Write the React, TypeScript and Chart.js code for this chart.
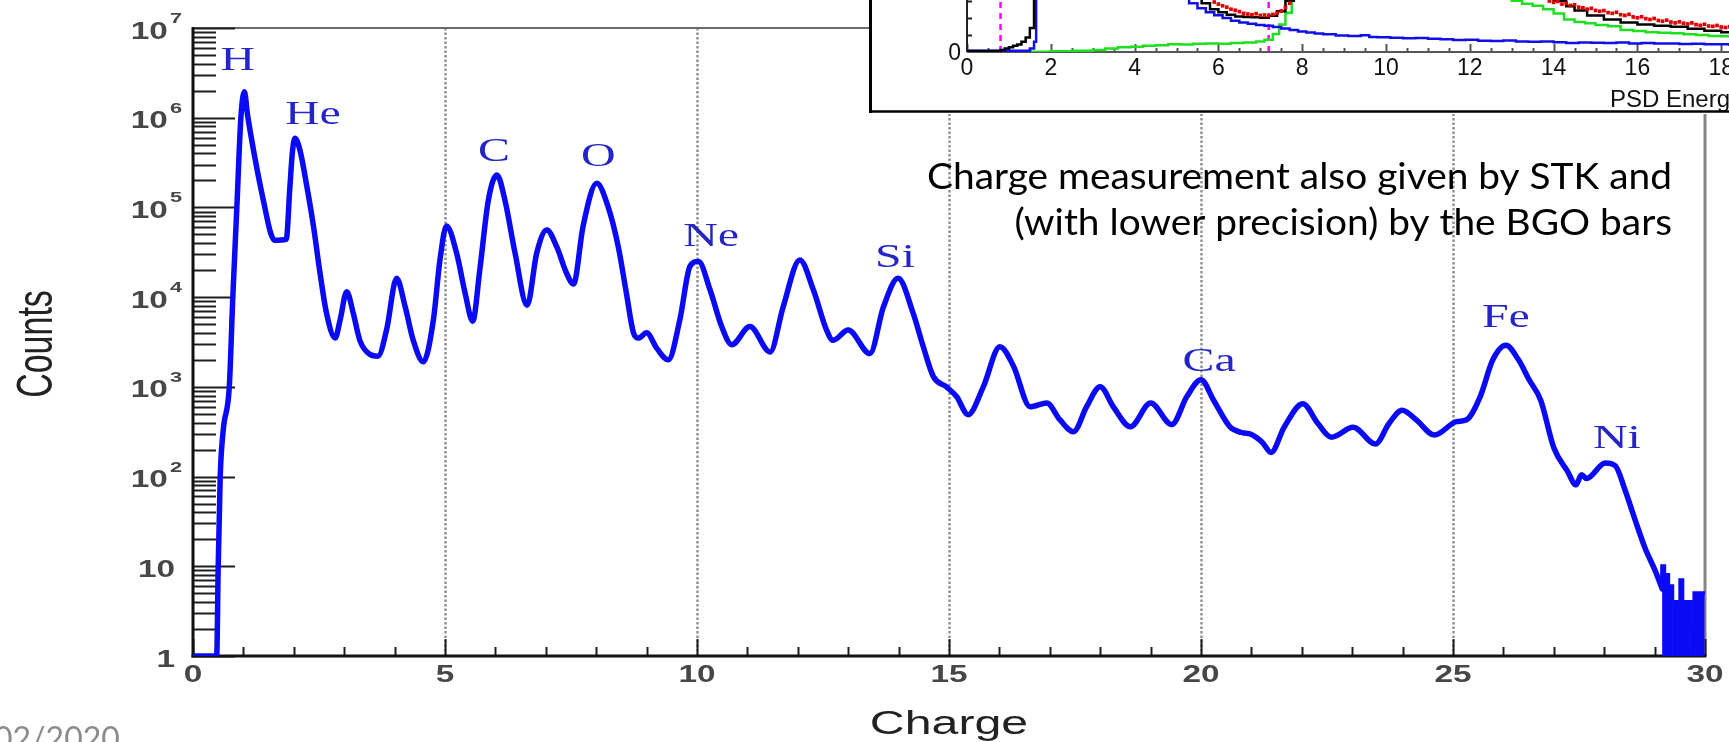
import React, { useEffect, useRef } from 'react';
import { Chart, registerables } from 'chart.js';

Chart.register(...registerables);

// ---------------- main spectrum data ----------------
const charges = [
  0, 0.47, 0.50, 0.54, 0.60, 0.72, 0.79, 0.87, 0.95, 1.02,
  1.08, 1.15, 1.28, 1.41, 1.54, 1.62, 1.85, 1.92, 1.97, 2.02,
  2.12, 2.26, 2.39, 2.52, 2.65, 2.82, 2.92, 3.05, 3.18, 3.31,
  3.51, 3.67, 3.84, 4.04, 4.21, 4.37, 4.57, 4.77, 4.90, 5.03,
  5.23, 5.40, 5.55, 5.69, 5.86, 6.03, 6.19, 6.39, 6.63, 6.82,
  7.02, 7.22, 7.41, 7.55, 7.74, 8.01, 8.24, 8.44, 8.60, 8.74,
  8.84, 9.00, 9.20, 9.43, 9.66, 9.86, 10.03, 10.26, 10.49, 10.69,
  11.05, 11.45, 11.71, 12.04, 12.31, 12.57, 12.70, 13.00, 13.43, 13.70,
  13.99, 14.29, 14.49, 14.69, 14.95, 15.15, 15.38, 15.68, 16.01, 16.28,
  16.61, 16.94, 17.20, 17.47, 17.73, 18.00, 18.26, 18.60, 19.00, 19.42,
  19.72, 20.00, 20.25, 20.58, 20.80, 21.00, 21.22, 21.39, 21.65, 22.02,
  22.32, 22.59, 23.02, 23.46, 23.73, 23.99, 24.27, 24.63, 25.07, 25.27,
  25.54, 25.79, 26.05, 26.30, 26.51, 26.74, 27.00, 27.27, 27.44, 27.55,
  27.65, 28.02, 28.22, 28.42, 28.62, 28.81, 29.02, 29.15,
];
const counts = [
  1, 1, 10, 100, 330, 1000, 10000, 100000, 1000000, 1950000,
  1100000, 630000, 250000, 110000, 52000, 43000, 44000, 160000, 400000, 590000,
  440000, 170000, 62000, 18600, 6600, 3500, 5600, 11500, 6600, 3300,
  2300, 2200, 4300, 16200, 7800, 3300, 1900, 5600, 26000, 62000,
  31000, 11000, 5400, 20000, 120000, 230000, 120000, 31000, 8100, 31000,
  56000, 36000, 18600, 14000, 62000, 186000, 100000, 36000, 11000, 4000,
  3500, 4000, 2700, 2000, 5600, 22000, 25000, 12000, 4700, 2950,
  4700, 2450, 7800, 26000, 12000, 4300, 3300, 4300, 2350, 7800,
  16200, 6600, 2800, 1300, 1000, 780, 490, 1000, 2800, 1700,
  600, 660, 430, 316, 600, 1000, 600, 360, 660, 380,
  780, 1200, 710, 355, 310, 295, 240, 186, 355, 650,
  390, 275, 355, 230, 390, 550, 430, 290, 410, 430,
  780, 2000, 2900, 2000, 1200, 710, 210, 115, 81, 105,
  95, 142, 132, 69, 32, 16, 8.7, 5.6,
];
// noisy high-charge tail (histogram bins)
const tailCharges = [
  29.15, 29.19, 29.23, 29.27, 29.31, 29.35, 29.39, 29.43, 29.47, 29.51, 29.55,
  29.59, 29.63, 29.67, 29.71, 29.75, 29.79, 29.83, 29.87, 29.91, 29.95, 30.0,
];
const tailCounts = [5.6, 10, 1, 8, 1, 6, 4, 1, 4, 1, 7, 1, 4, 1, 4, 2, 1, 5, 1, 5, 1, 5];

const xTickValues = [0, 5, 10, 15, 20, 25, 30];
const xTickLabels = ['0', '5', '10', '15', '20', '25', '30'];
const xGridValues = [5, 10, 15, 20, 25];
const yTickValues = [1, 10, 100, 1000, 10000, 100000, 1000000, 10000000];
const yTickBases = ['1', '10', '10', '10', '10', '10', '10', '10'];
const yTickExponents = ['', '', '2', '3', '4', '5', '6', '7'];

const elementNames = ['H', 'He', 'C', 'O', 'Ne', 'Si', 'Ca', 'Fe', 'Ni'];
const elementLabelCharge = [0.89, 2.38, 5.97, 8.04, 10.28, 13.93, 20.16, 26.05, 28.25];
const elementLabelCount = [4.5e6, 1.12e6, 4.4e5, 3.85e5, 4.9e4, 2.9e4, 2.0e3, 6.2e3, 275];

const xTitle = 'Charge';
const yTitle = 'Counts';
const noteLines = ['Charge measurement also given by STK and', '(with lower precision) by the BGO bars'];
const dateText = '02/2020';

// ---------------- inset (PSD energy) data ----------------
const insetTickValues = [0, 2, 4, 6, 8, 10, 12, 14, 16, 18];
const insetTickLabels = ['0', '2', '4', '6', '8', '10', '12', '14', '16', '18'];
const insetCutValues = [0.8, 7.2];
const insetTitle = 'PSD Energy';

const blackX = [0, 0.8, 0.9, 1.0, 1.1, 1.2, 1.3, 1.4, 1.5, 1.6, 1.7, 3.0, 5.0, 5.6, 5.8, 6.0, 6.2, 6.4, 6.6, 6.8, 7.0, 7.2, 7.4, 7.6, 7.8, 8.0, 10.0, 12.0, 14.0, 14.3, 14.5, 14.8, 15.2, 15.6, 16.0, 16.4, 16.8, 17.2, 17.6, 18.0, 18.4, 18.8, 19.2];
const blackY = [0, 6, 12, 20, 28, 36, 44, 60, 85, 140, 2600, 3000, 1600, 340, 285, 250, 232, 218, 208, 205, 203, 200, 212, 238, 300, 700, 1500, 1200, 600, 300, 268, 242, 214, 190, 172, 160, 153, 147, 136, 124, 116, 111, 105];

const blueX = [0, 1.5, 1.6, 1.65, 1.7, 3.0, 5.0, 5.3, 5.5, 5.7, 5.9, 6.1, 6.3, 6.5, 6.7, 6.9, 7.1, 7.3, 7.5, 7.7, 7.9, 8.1, 8.3, 8.5, 8.8, 9.1, 9.4, 9.6, 9.8, 10.1, 10.4, 10.7, 11.0, 11.3, 11.6, 11.9, 12.2, 12.5, 12.8, 13.1, 13.4, 13.7, 14.0, 14.3, 14.6, 14.9, 15.2, 15.5, 15.8, 16.1, 16.4, 16.7, 17.0, 17.3, 17.6, 17.9, 18.2, 18.5, 18.8];
const blueY = [0, 8, 20, 60, 2800, 3200, 1200, 320, 285, 255, 232, 215, 198, 182, 172, 165, 158, 154, 146, 138, 128, 120, 114, 108, 104, 97, 93, 98, 88, 86, 84, 80, 82, 78, 74, 70, 72, 66, 64, 67, 62, 60, 61, 57, 52, 56, 54, 53, 55, 50, 52, 49, 50, 47, 48, 45, 46, 42, 40];

const greenX = [0, 1.0, 2.0, 2.5, 3.0, 3.3, 3.6, 3.9, 4.2, 4.5, 4.8, 5.1, 5.4, 5.7, 6.0, 6.3, 6.6, 6.9, 7.1, 7.3, 7.45, 7.6, 7.75, 7.9, 9.0, 11.0, 13.0, 13.25, 13.5, 13.75, 14.0, 14.25, 14.5, 14.75, 15.0, 15.3, 15.6, 15.9, 16.2, 16.5, 16.8, 17.1, 17.4, 17.7, 18.0, 18.3, 18.6];
const greenY = [0, 1, 2, 4, 8, 12, 20, 28, 30, 36, 40, 45, 44, 48, 50, 48, 52, 55, 62, 72, 105, 160, 230, 400, 1400, 2000, 900, 300, 282, 270, 250, 225, 190, 175, 168, 158, 150, 128, 122, 116, 112, 110, 104, 100, 94, 92, 88];

const redX = [5.9, 6.0, 6.1, 6.2, 6.3, 6.4, 6.5, 6.6, 6.7, 6.8, 6.9, 7.0, 7.1, 7.2, 7.3, 7.4, 7.5, 7.6, 7.7,
  13.9, 14.0, 14.1, 14.2, 14.3, 14.4, 14.5, 14.6, 14.7, 14.8, 14.9, 15.0, 15.1, 15.2, 15.3, 15.4, 15.5, 15.6, 15.7, 15.8,
  15.9, 16.0, 16.1, 16.2, 16.3, 16.4, 16.5, 16.6, 16.7, 16.8, 16.9, 17.0, 17.1, 17.2, 17.3, 17.4, 17.5, 17.6, 17.7, 17.8,
  17.9, 18.0, 18.1, 18.2, 18.3, 18.4, 18.5];
const redY = [292, 280, 270, 262, 250, 244, 236, 226, 222, 218, 224, 214, 216, 212, 220, 228, 240, 262, 285,
  298, 290, 296, 280, 284, 272, 276, 262, 258, 250, 255, 243, 238, 242, 230, 226, 232, 218, 214, 220,
  205, 200, 206, 195, 190, 196, 184, 180, 186, 175, 170, 176, 168, 164, 170, 160, 156, 162, 152, 150,
  155, 146, 143, 148, 140, 138, 142];

// ---------------- styles ----------------
const CURVE = '#0a0af5';
const LABEL_BLUE = '#2424c8';
const TICK_COLOR = '#474747';
const SX = 1.45;
const TICK_FONT = 'bold 23px "Liberation Sans", Arial, sans-serif';
const EXP_FONT = 'bold 15px "Liberation Sans", Arial, sans-serif';
const TITLE_FONT = '34px "Liberation Sans", Arial, sans-serif';
const XTITLE_FONT = '34px "Liberation Sans", Arial, sans-serif';
const ELEM_FONT = '33px "Liberation Serif", "Times New Roman", serif';
const NOTE_FONT = '37px Lato, "Open Sans", sans-serif';
const DATE_FONT = '32px Lato, "Open Sans", sans-serif';
const INSET_FONT = '23px "Liberation Sans", Arial, sans-serif';
const INSET_TITLE_FONT = '24px "Liberation Sans", Arial, sans-serif';

function txt(ctx: CanvasRenderingContext2D, s: string, x: number, y: number, font: string, color: string, align: CanvasTextAlign, sx = 1) {
  ctx.save();
  ctx.font = font;
  ctx.fillStyle = color;
  ctx.textAlign = align;
  ctx.textBaseline = 'alphabetic';
  ctx.translate(x, y);
  ctx.scale(sx, 1);
  ctx.fillText(s, 0, 0);
  ctx.restore();
}

function seg(ctx: CanvasRenderingContext2D, x1: number, y1: number, x2: number, y2: number) {
  ctx.beginPath();
  ctx.moveTo(x1, y1);
  ctx.lineTo(x2, y2);
  ctx.stroke();
}

const mainDecor = {
  id: 'mainDecor',
  beforeDatasetsDraw(chart: any) {
    const { ctx, chartArea: a, scales } = chart;
    const x = scales.x, y = scales.y;
    ctx.save();
    // dotted vertical grid lines
    ctx.strokeStyle = '#939393';
    ctx.lineWidth = 2.5;
    ctx.setLineDash([2.5, 2]);
    xGridValues.forEach((v) => {
      const px = Math.round(x.getPixelForValue(v)) + 0.5;
      seg(ctx, px, a.top, px, a.bottom);
    });
    ctx.setLineDash([]);
    // top and right frame
    ctx.strokeStyle = '#6a6a6a';
    ctx.lineWidth = 2;
    seg(ctx, a.left, a.top, a.right + 1, a.top);
    ctx.strokeStyle = '#858585';
    ctx.lineWidth = 3;
    seg(ctx, a.right, a.top, a.right, a.bottom);
    // y ticks (log, inward)
    ctx.strokeStyle = '#1e1e1e';
    ctx.lineWidth = 2;
    for (let k = 0; k < 7; k++) {
      for (let m = 1; m <= 9; m++) {
        const v = m * Math.pow(10, k);
        const py = Math.round(y.getPixelForValue(v)) + 0.5;
        seg(ctx, a.left, py, a.left + (m === 1 ? 42 : 23), py);
      }
    }
    const pTop = Math.round(y.getPixelForValue(1e7)) + 0.5;
    seg(ctx, a.left, pTop, a.left + 42, pTop);
    // x ticks (inward)
    for (let i = 0; i <= 30; i++) {
      const px = Math.round(x.getPixelForValue(i)) + 0.5;
      seg(ctx, px, a.bottom, px, a.bottom - (i % 5 === 0 ? 17 : 9));
    }
    // axes
    ctx.strokeStyle = '#111';
    ctx.lineWidth = 3;
    seg(ctx, a.left, a.top - 1, a.left, a.bottom + 1.5);
    seg(ctx, a.left - 1.5, a.bottom, a.right + 1.5, a.bottom);
    ctx.restore();
  },
  afterDraw(chart: any) {
    const { ctx, chartArea: a, scales } = chart;
    const x = scales.x, y = scales.y;
    // x tick labels
    xTickValues.forEach((v, i) => {
      txt(ctx, xTickLabels[i], x.getPixelForValue(v), 682, TICK_FONT, TICK_COLOR, 'center', SX);
    });
    // y tick labels with superscripts
    yTickValues.forEach((v, i) => {
      const py = y.getPixelForValue(v);
      const e = yTickExponents[i];
      if (e) {
        ctx.save();
        ctx.font = EXP_FONT;
        const ew = ctx.measureText(e).width * SX;
        ctx.restore();
        txt(ctx, e, 182, py - 5, EXP_FONT, TICK_COLOR, 'right', SX);
        txt(ctx, yTickBases[i], 182 - ew - 2, py + 10.5, TICK_FONT, TICK_COLOR, 'right', SX);
      } else {
        txt(ctx, yTickBases[i], 175, py + 10.5, TICK_FONT, TICK_COLOR, 'right', SX);
      }
    });
    // axis titles
    txt(ctx, xTitle, (a.left + a.right) / 2, 734, XTITLE_FONT, '#222', 'center', 1.42);
    ctx.save();
    ctx.translate(35, 344);
    ctx.scale(SX, 1);
    ctx.rotate(-Math.PI / 2);
    ctx.font = TITLE_FONT;
    ctx.fillStyle = '#222';
    ctx.textAlign = 'center';
    ctx.textBaseline = 'alphabetic';
    ctx.fillText(yTitle, 0, 12);
    ctx.restore();
    // element labels
    elementNames.forEach((n, i) => {
      const px = x.getPixelForValue(elementLabelCharge[i]);
      const py = y.getPixelForValue(elementLabelCount[i]);
      txt(ctx, n, px, py + 11, ELEM_FONT, LABEL_BLUE, 'center', SX);
    });
    // slide note
    ctx.save();
    ctx.font = NOTE_FONT;
    const w1 = ctx.measureText(noteLines[0]).width;
    ctx.restore();
    const nsx = 745 / w1;
    txt(ctx, noteLines[0], 1672, 189, NOTE_FONT, '#000', 'right', nsx);
    txt(ctx, noteLines[1], 1672, 235, NOTE_FONT, '#000', 'right', nsx);
    // date footer
    txt(ctx, dateText, -6, 750, DATE_FONT, '#8c8c8c', 'left', 1);
  },
};

const insetDecor = {
  id: 'insetDecor',
  beforeDraw(chart: any) {
    const { ctx, width, height } = chart;
    ctx.save();
    ctx.fillStyle = '#fff';
    ctx.fillRect(0, 0, width, height);
    ctx.restore();
  },
  beforeDatasetsDraw(chart: any) {
    const { ctx, chartArea: a, scales } = chart;
    const x = scales.x, y = scales.y;
    ctx.save();
    // magenta cut lines
    ctx.strokeStyle = '#ff00ff';
    ctx.lineWidth = 2.5;
    ctx.setLineDash([6, 5]);
    insetCutValues.forEach((v) => {
      const px = x.getPixelForValue(v);
      seg(ctx, px, a.bottom, px, a.top);
    });
    ctx.setLineDash([]);
    // x axis + ticks
    ctx.strokeStyle = '#555';
    ctx.lineWidth = 2;
    seg(ctx, a.left, a.bottom, a.right, a.bottom);
    for (let i = 0; i <= 40; i++) {
      const v = i * 0.5;
      const px = Math.round(x.getPixelForValue(v)) + 0.5;
      seg(ctx, px, a.bottom, px, a.bottom - (i % 4 === 0 ? 8 : 4));
    }
    // y axis + ticks
    ctx.strokeStyle = '#222';
    seg(ctx, a.left, a.top, a.left, a.bottom);
    for (let u = 100; u <= 1800; u += 100) {
      const py = Math.round(y.getPixelForValue(u)) + 0.5;
      seg(ctx, a.left, py, a.left + (u % 500 === 0 ? 10 : 5), py);
    }
    ctx.restore();
  },
  afterDraw(chart: any) {
    const { ctx, chartArea: a, scales, height } = chart;
    const x = scales.x;
    insetTickValues.forEach((v, i) => {
      txt(ctx, insetTickLabels[i], x.getPixelForValue(v), a.bottom + 22.5, INSET_FONT, '#111', 'center', 1);
    });
    txt(ctx, '0', a.left - 6, a.bottom + 8, INSET_FONT, '#111', 'right', 1);
    txt(ctx, insetTitle, 741, height - 7, INSET_TITLE_FONT, '#111', 'left', 1);
    // frame
    ctx.save();
    ctx.strokeStyle = '#000';
    ctx.lineWidth = 3;
    seg(ctx, 1.5, 0, 1.5, height - 1);
    ctx.lineWidth = 2.5;
    seg(ctx, 0, height - 2.5, chart.width, height - 2.5);
    ctx.restore();
  },
};

const toPts = (xs: number[], ys: number[]) => xs.map((v, i) => ({ x: v, y: ys[i] }));

export default function App() {
  const mainRef = useRef<HTMLCanvasElement>(null);
  const insetRef = useRef<HTMLCanvasElement>(null);

  useEffect(() => {
    const main = new Chart(mainRef.current as HTMLCanvasElement, {
      type: 'line',
      data: {
        datasets: [
          {
            data: toPts(charges, counts),
            borderColor: CURVE,
            borderWidth: 5.5,
            pointRadius: 0,
            cubicInterpolationMode: 'monotone',
            borderJoinStyle: 'round',
            borderCapStyle: 'round',
            fill: false,
          },
          {
            data: toPts(tailCharges, tailCounts),
            borderColor: CURVE,
            borderWidth: 4,
            pointRadius: 0,
            stepped: 'after',
            fill: false,
          },
        ],
      },
      options: {
        responsive: false,
        animation: false,
        devicePixelRatio: 1,
        events: [],
        layout: { padding: { left: 193, right: 24, top: 28, bottom: 86 } },
        scales: {
          x: { type: 'linear', min: 0, max: 30, display: false },
          y: { type: 'logarithmic', min: 1, max: 1e7, display: false },
        },
        plugins: { legend: { display: false }, tooltip: { enabled: false } },
      },
      plugins: [mainDecor],
    } as any);

    const inset = new Chart(insetRef.current as HTMLCanvasElement, {
      type: 'line',
      data: {
        datasets: [
          {
            data: toPts(redX, redY),
            showLine: false,
            pointRadius: 2.6,
            pointStyle: 'rect',
            pointBackgroundColor: '#e00000',
            pointBorderWidth: 0,
            borderColor: '#e00000',
          },
          { data: toPts(blackX, blackY), borderColor: '#000', borderWidth: 2.5, pointRadius: 0, stepped: 'after' },
          { data: toPts(blueX, blueY), borderColor: '#1010e6', borderWidth: 2.5, pointRadius: 0, stepped: 'after' },
          { data: toPts(greenX, greenY), borderColor: '#1ee01e', borderWidth: 2.5, pointRadius: 0, stepped: 'after' },
        ],
      },
      options: {
        responsive: false,
        animation: false,
        devicePixelRatio: 1,
        events: [],
        layout: { padding: { left: 98, right: 2, top: 0, bottom: 62 } },
        scales: {
          x: { type: 'linear', min: 0, max: 20, display: false },
          y: { type: 'linear', min: 0, max: 1800, display: false },
        },
        plugins: { legend: { display: false }, tooltip: { enabled: false } },
      },
      plugins: [insetDecor],
    } as any);

    return () => {
      main.destroy();
      inset.destroy();
    };
  }, []);

  return (
    <div style={{ position: 'fixed', left: 0, top: 0, width: 1729, height: 742, overflow: 'hidden', background: '#fff' }}>
      <canvas ref={mainRef} width={1729} height={742} style={{ position: 'absolute', left: 0, top: 0, width: 1729, height: 742 }} />
      <canvas ref={insetRef} width={940} height={374} style={{ position: 'absolute', left: 869, top: -260, width: 940, height: 374 }} />
    </div>
  );
}
